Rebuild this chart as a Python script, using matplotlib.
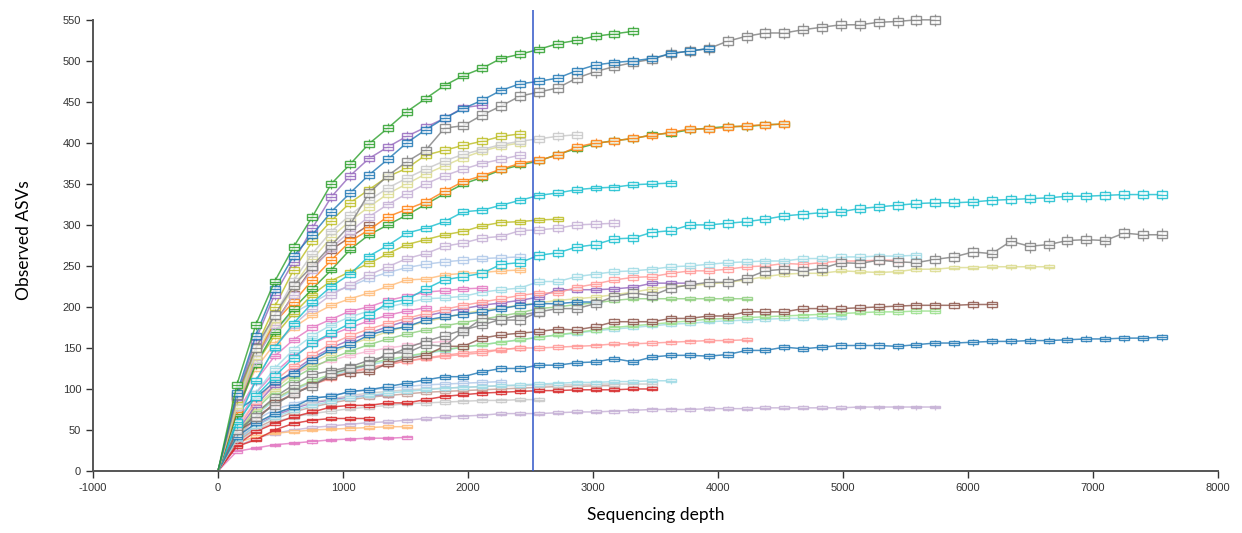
import matplotlib
matplotlib.use("Agg")
import matplotlib.pyplot as plt
from matplotlib.colors import to_rgba

plt.rcParams['axes.unicode_minus'] = False

# rarefaction depth step (each list index k sits at depth k*step)
step = 151
cut_depth = 2520
xticks = [-1000, 0, 1000, 2000, 3000, 4000, 5000, 6000, 7000, 8000]
yticks = [0, 50, 100, 150, 200, 250, 300, 350, 400, 450, 500, 550]

green_top = [0, 105, 178, 231, 273, 310, 350, 374, 399, 418, 438, 454, 470, 482, 491, 503, 508,
             514, 521, 525, 530, 533, 536]
blue_top = [0, 95, 165, 222, 262, 288, 316, 339, 361, 380, 400, 416, 430, 442, 452, 464, 472,
            475, 479, 488, 495, 498, 500, 503, 509, 512, 515]
gray_top = [0, 92, 150, 190, 226, 250, 275, 300, 339, 360, 377, 391, 418, 421, 434, 445, 457,
            462, 467, 479, 487, 493, 498, 502, 509, 512, 515, 524, 530, 534, 534, 538, 541,
            544, 544, 547, 548, 550, 550]
purple_top = [0, 90, 160, 215, 255, 296, 334, 360, 381, 395, 408, 419, 430, 443, 446]
olive_top = [0, 88, 150, 200, 245, 280, 305, 327, 343, 359, 369, 385, 391, 397, 402, 408, 411]
lgray_top = [0, 85, 145, 190, 232, 265, 292, 312, 330, 345, 357, 368, 378, 386, 392, 398, 402,
             405, 408, 410]
lolive_top = [0, 80, 140, 185, 225, 258, 285, 305, 322, 338, 350, 362, 372, 382, 390, 396, 400]
lpurple_top = [0, 78, 135, 178, 215, 245, 272, 292, 310, 325, 338, 350, 360, 368, 375, 380, 385]
orange = [0, 75, 140, 181, 206, 233, 257, 280, 294, 310, 319, 328, 341, 353, 360, 368, 375,
          379, 385, 395, 400, 402, 406, 409, 413, 417, 417, 419, 421, 422, 423]
green_mid = [0, 70, 130, 170, 198, 222, 245, 270, 288, 300, 312, 325, 338, 350, 358, 367, 373,
             378, 386, 393, 399, 403, 405, 410, 412, 416, 418, 420, 420, 422, 423]
brown_mid = [0, 72, 135, 180, 215, 248, 270, 285, 300]
teal_mid = [0, 60, 110, 150, 180, 205, 225, 240, 262, 275, 290, 296, 304, 316, 318, 324, 330,
            336, 339, 343, 345, 346, 349, 350, 351]
olive_mid = [0, 80, 130, 165, 192, 215, 232, 243, 253, 265, 276, 282, 288, 292, 299, 303, 304,
             306, 307]
lpurple_mid = [0, 65, 110, 150, 178, 198, 215, 227, 239, 249, 259, 265, 274, 278, 284, 286, 293,
               294, 296, 300, 301, 302]
teal_long = [0, 58, 91, 115, 138, 156, 168, 180, 190, 205, 209, 222, 233, 237, 241, 252, 254,
             263, 266, 273, 276, 283, 284, 291, 293, 300, 300, 302, 304, 307, 311, 313, 315,
             316, 320, 322, 324, 326, 327, 327, 328, 330, 331, 332, 333, 335, 335, 336, 337,
             337, 337]
gray_long = [0, 50, 66, 80, 95, 103, 119, 125, 129, 144, 144, 154, 152, 170, 186, 184, 184,
             194, 198, 198, 204, 213, 217, 214, 223, 227, 230, 230, 235, 244, 246, 244, 247,
             254, 253, 257, 255, 254, 258, 261, 267, 265, 280, 274, 276, 281, 282, 281, 290,
             288, 288]
lcyan_long = [0, 55, 95, 125, 148, 165, 178, 188, 195, 200, 205, 210, 211, 213, 218, 221, 223,
              231, 231, 237, 240, 243, 244, 246, 249, 250, 252, 254, 255, 256, 256, 259, 259,
              261, 261, 262, 262, 263]
salmon_long = [0, 50, 85, 110, 128, 142, 155, 165, 173, 180, 186, 192, 197, 202, 206, 210, 214,
               217, 217, 224, 228, 233, 236, 237, 241, 244, 244, 246, 249, 250, 253, 252, 254,
               256, 256, 257, 257]
purple_mid = [0, 48, 80, 105, 122, 138, 150, 160, 168, 176, 183, 189, 194, 198, 202, 205, 208,
              212, 221, 221, 221, 222, 224, 229, 229, 229]
lolive_long = [0, 45, 78, 100, 118, 132, 144, 154, 162, 170, 176, 182, 187, 192, 196, 199, 202,
               205, 208, 210, 212, 215, 218, 222, 225, 226, 228, 230, 233, 237, 240, 241, 241,
               244, 243, 242, 243, 246, 246, 248, 248, 249, 249, 249, 249]
blue_mid = [0, 74, 89, 109, 119, 135, 148, 154, 166, 172, 176, 184, 188, 191, 194, 198, 202,
            204, 204, 206, 206]
green_low = [0, 45, 75, 97, 113, 126, 137, 146, 154, 161, 167, 172, 177, 181, 185, 189, 193,
             198, 200, 203, 205, 208, 210, 210, 210, 210, 210, 210, 210]
brown_long = [0, 48, 62, 83, 93, 105, 115, 119, 121, 131, 137, 141, 152, 152, 162, 166, 168,
              170, 173, 172, 176, 182, 182, 182, 186, 186, 189, 189, 194, 194, 194, 198, 198,
              198, 199, 200, 201, 202, 202, 202, 203, 203]
lgreen_long = [0, 42, 70, 88, 100, 110, 118, 125, 131, 136, 140, 144, 148, 151, 154, 157, 160,
               163, 166, 169, 172, 175, 177, 179, 181, 183, 185, 186, 187, 188, 189, 190, 191,
               192, 193, 194, 194, 195, 195]
lteal_low = [0, 40, 68, 86, 98, 108, 116, 123, 129, 134, 139, 143, 147, 151, 154, 157, 160,
             163, 166, 168, 171, 173, 175, 177, 179, 180, 182, 183, 184, 185, 186, 186, 187, 187]
salmon_low = [0, 45, 70, 88, 100, 108, 115, 121, 126, 130, 134, 137, 140, 142, 144, 148, 150,
              150, 151, 152, 153, 155, 155, 156, 157, 158, 159, 159, 160]
blue_long = [0, 42, 58, 70, 78, 89, 91, 97, 99, 103, 107, 111, 115, 115, 121, 125, 125, 129,
             129, 132, 133, 137, 133, 139, 141, 141, 140, 142, 147, 147, 151, 149, 151, 153,
             153, 153, 152, 154, 156, 156, 157, 158, 158, 159, 159, 160, 161, 161, 162, 162, 163]
lcyan_low = [0, 38, 55, 66, 74, 80, 85, 89, 92, 95, 97, 99, 101, 102, 103, 104, 105, 106, 107,
             108, 108, 109, 109, 110, 110]
lgray_low = [0, 40, 58, 70, 78, 84, 88, 92, 95, 97, 99, 100, 101, 102, 103, 104, 104, 105, 105,
             105, 106, 106, 106, 106]
red_low = [0, 32, 48, 58, 66, 72, 78, 80, 80, 83, 83, 87, 91, 93, 95, 96, 97, 98, 98, 99, 99,
           99, 100, 100]
lbrown_low = [0, 36, 52, 63, 72, 78, 83, 87, 90, 92, 94, 96, 97, 98, 99, 100, 101, 102, 103,
              103, 104, 104]
lgray_low2 = [0, 35, 50, 60, 66, 70, 73, 76, 78, 80, 82, 83, 84, 85, 86, 86, 87, 87]
lavender_long = [0, 30, 40, 46, 50, 53, 55, 57, 59, 60, 62, 64, 66, 67, 68, 70, 70, 70, 71, 72,
                 72, 73, 74, 75, 75, 75, 76, 76, 76, 77, 77, 77, 77, 77, 78, 78, 78, 78, 78]
red_short = [0, 30, 38, 50, 58, 62, 64, 64, 64]
lorange_short = [0, 34, 42, 46, 48, 50, 51, 52, 53, 54, 54]
pink_short = [0, 24, 28, 32, 34, 36, 38, 39, 40, 40, 41]
pink_mid = [0, 70, 110, 140, 160, 175, 185, 195, 200, 208, 213, 218, 220, 222, 223]
lorange_mid = [0, 75, 125, 155, 175, 190, 202, 210, 217, 225, 233, 234, 239, 241, 242, 244, 245]
lblue_mid = [0, 85, 140, 172, 193, 205, 218, 225, 235, 242, 248, 252, 255, 257, 259, 260, 261]
lpink_mid = [0, 55, 85, 105, 118, 128, 135, 141, 146, 150, 153, 156, 158]
pink_low = [0, 60, 95, 120, 140, 155, 166, 175, 183, 190, 195, 199]
gray_mid = [0, 45, 70, 90, 105, 118, 122, 127, 135, 140, 150, 158, 165, 172, 178, 185, 190, 194]
salmon_mid = [0, 40, 65, 82, 95, 105, 113, 120, 125, 130, 134, 138, 141, 144, 146, 148, 150]
lblue_low = [0, 45, 62, 75, 82, 88, 92, 96, 99, 101, 103, 105, 106, 107, 108, 109]
purple_low = [0, 38, 55, 68, 76, 83, 87, 90, 92, 93]

# (values, colour, box half height) - drawn bottom of the stack first
curves = [
    (lavender_long, '#c5b0d5', 1.8),
    (pink_short, '#e377c2', 1.5),
    (lorange_short, '#ffbb78', 1.5),
    (red_short, '#d62728', 1.8),
    (purple_low, '#9467bd', 2.5),
    (lgray_low2, '#c7c7c7', 2.0),
    (lbrown_low, '#c49c94', 2.0),
    (lgray_low, '#c7c7c7', 2.0),
    (lblue_low, '#aec7e8', 2.5),
    (red_low, '#d62728', 1.8),
    (lcyan_low, '#9edae5', 2.0),
    (salmon_mid, '#ff9896', 2.5),
    (lpink_mid, '#f7b6d2', 2.5),
    (salmon_low, '#ff9896', 2.0),
    (lteal_low, '#9edae5', 2.0),
    (lgreen_long, '#98df8a', 2.0),
    (gray_mid, '#7f7f7f', 4.0),
    (pink_low, '#e377c2', 2.5),
    (green_low, '#8fcf7f', 2.0),
    (lolive_long, '#dbdb8d', 2.0),
    (purple_mid, '#9467bd', 2.5),
    (salmon_long, '#ff9896', 3.0),
    (lcyan_long, '#9edae5', 3.0),
    (lorange_mid, '#ffbb78', 2.5),
    (pink_mid, '#e377c2', 2.5),
    (lblue_mid, '#aec7e8', 3.5),
    (brown_long, '#8c564b', 3.0),
    (blue_long, '#1f77b4', 2.5),
    (blue_mid, '#1f77b4', 3.0),
    (gray_long, '#7f7f7f', 4.5),
    (lpurple_mid, '#c5b0d5', 3.5),
    (olive_mid, '#bcbd22', 2.5),
    (teal_long, '#17becf', 4.0),
    (teal_mid, '#17becf', 3.0),
    (brown_mid, '#8c564b', 4.0),
    (green_mid, '#2ca02c', 3.0),
    (orange, '#ff7f0e', 3.5),
    (lpurple_top, '#c5b0d5', 3.5),
    (lolive_top, '#dbdb8d', 3.5),
    (lgray_top, '#c7c7c7', 3.5),
    (olive_top, '#bcbd22', 3.5),
    (purple_top, '#9467bd', 3.5),
    (gray_top, '#7f7f7f', 4.5),
    (blue_top, '#1f77b4', 3.5),
    (green_top, '#2ca02c', 3.5),
]

fig = plt.figure(figsize=(12.42, 5.33), dpi=100)
ax = fig.add_axes([93 / 1242, 62 / 533, 1125 / 1242, 461 / 533])

box_w = 80
for i, (vals, color, h) in enumerate(curves):
    z = 2 + i * 0.01
    depths = [step * k for k in range(len(vals))]
    ax.plot(depths, vals, color=color, lw=1.1, alpha=0.8, zorder=z)
    xs = depths[1:]
    ys = vals[1:]
    ax.vlines(xs, [y - 1.7 * h for y in ys], [y + 1.7 * h for y in ys],
              color=color, lw=0.9, alpha=0.8, zorder=z)
    ax.bar(xs, [2 * h] * len(ys), bottom=[y - h for y in ys], width=box_w,
           facecolor=to_rgba('white', 0.75), edgecolor=to_rgba(color, 0.85), lw=1.0,
           zorder=z + 0.001)
    ax.hlines(ys, [x - box_w / 2 for x in xs], [x + box_w / 2 for x in xs],
              color=color, lw=0.9, alpha=0.85, zorder=z + 0.002)

ax.axvline(cut_depth, color='#2f55c8', lw=1.1, zorder=10)

ax.set_xlim(-1000, 8000)
ax.set_ylim(0, 562)
ax.set_xticks(xticks)
ax.set_yticks(yticks)
ax.tick_params(labelsize=8, colors='#333333', length=5, width=1, direction='out')
for lab in ax.get_xticklabels() + ax.get_yticklabels():
    lab.set_family('Liberation Sans')
for side in ['top', 'right']:
    ax.spines[side].set_visible(False)
for side in ['left', 'bottom']:
    ax.spines[side].set_color('#555555')
    ax.spines[side].set_linewidth(1.4)
ax.spines['left'].set_bounds(0, 550)

ax.set_xlabel('Sequencing depth', family='Lato', fontsize=12.5, labelpad=10)
ax.set_ylabel('Observed ASVs', family='Lato', fontsize=12.5, labelpad=22)

fig.savefig('out.png', dpi=100)
